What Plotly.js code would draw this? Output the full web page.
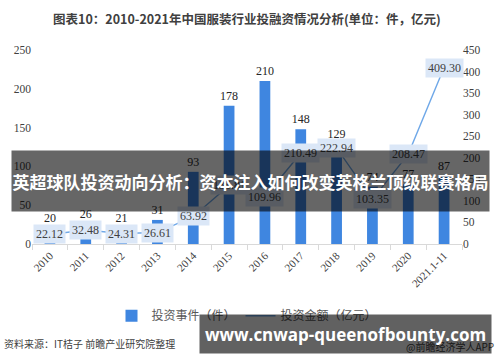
<!DOCTYPE html>
<html><head><meta charset="utf-8">
<script src="https://cdn.plot.ly/plotly-3.0.1.min.js"></script>
<style>html,body{margin:0;padding:0;background:#fff}#chart{width:500px;height:362px}</style>
</head><body><div id="chart"></div>
<script>
const categories = ['2010','2011','2012','2013','2014','2015','2016','2017','2018','2019','2020','2021.1-11'];
const eventCounts = [20,26,21,31,93,178,210,148,129,74,77,87];
const amounts = [22.12,32.48,24.31,26.61,63.92,135.81,109.96,210.49,222.94,103.35,208.47,409.30];
const titleText = '图表10：2010-2021年中国服装行业投融资情况分析(单位：件，亿元)';
const bannerText = '英超球队投资动向分析：资本注入如何改变英格兰顶级联赛格局';
const siteText = 'www.cnwap-queenofbounty.com';
const sourceText = '资料来源：IT桔子 前瞻产业研究院整理';
const creditText = '@前瞻经济学人APP';

const serif = 'Liberation Serif, Times New Roman, serif';
const sans = 'Noto Sans CJK SC, Noto Sans, sans-serif';

const traces = [
  {type:'bar', name:'投资事件（件）', x:categories, y:eventCounts, marker:{color:'#3f86e0'},
   width:0.3, text:eventCounts.map(String), textposition:'outside', cliponaxis:false, constraintext:'none',
   textfont:{family:serif, size:12, color:'#262626'}, yaxis:'y'},
  {type:'scatter', mode:'lines', name:'投资金额（亿元）', x:categories, y:amounts,
   line:{color:'#6fa8e8', width:1.4}, yaxis:'y2'}
];

const annotations = amounts.map((v,i)=>({
  x:i, y:v, xref:'x', yref:'y2', text:v.toFixed(2), showarrow:false,
  bgcolor:'#dbe7f7', borderpad:2, font:{family:serif, size:12, color:'#404040'}
}));
annotations.push(
  {xref:'paper', yref:'paper', x:0.5, y:1, yshift:32, xanchor:'center', yanchor:'middle', showarrow:false,
   text:'<b>'+titleText+'</b>', font:{family:sans, size:12.5, color:'#404040'}},
  {xref:'paper', yref:'paper', x:-0.07, y:0, yshift:-99, xanchor:'left', yanchor:'middle', showarrow:false,
   text:sourceText, font:{family:sans, size:10, color:'#404040'}},
  {xref:'paper', yref:'paper', x:1.08, y:0, yshift:-102, xanchor:'right', yanchor:'middle', showarrow:false,
   text:creditText, font:{family:sans, size:10, color:'#404040'}},
  {xref:'paper', yref:'paper', x:(250.5-32)/430, y:(244-181)/194.5, xanchor:'center', yanchor:'middle', showarrow:false,
   width:477, height:60, bgcolor:'rgba(0,0,0,0.6)', borderpad:0, valign:'middle',
   text:'<b>'+bannerText+'</b>', font:{family:sans, size:17, color:'#ffffff'}},
  {xref:'paper', yref:'paper', x:(345.5-32)/430, y:(244-334)/194.5, xanchor:'center', yanchor:'middle', showarrow:false,
   width:291, height:38, bgcolor:'rgba(0,0,0,0.62)', borderpad:0, valign:'middle',
   text:'<b>'+siteText+'</b>', font:{family:'Open Sans, DejaVu Sans, sans-serif', size:17, color:'#ffffff'}}
);

const layout = {
  width:500, height:362,
  margin:{l:32, r:38, t:50, b:118},
  paper_bgcolor:'#fff', plot_bgcolor:'#fff',
  showlegend:true,
  legend:{orientation:'h', x:0.5, xanchor:'center', y:-0.37, yanchor:'middle',
    font:{family:sans, size:12, color:'#595959'}, itemwidth:30, tracegroupgap:0},
  xaxis:{type:'category', range:[-0.5, 11.5], autorange:false, tickangle:-45, tickfont:{family:serif, size:11, color:'#404040'},
    showline:true, linecolor:'#d9d9d9', ticks:'outside', tickson:'boundaries', tickcolor:'#d9d9d9', ticklen:5,
    showgrid:false, zeroline:false},
  yaxis:{range:[0,250], autorange:false, dtick:50, showgrid:false, zeroline:false, showline:false,
    tickfont:{family:serif, size:11.5, color:'#404040'}},
  yaxis2:{range:[0,450], autorange:false, dtick:50, overlaying:'y', side:'right', showgrid:false, zeroline:false,
    tickfont:{family:serif, size:11.5, color:'#404040'}},
  annotations:annotations
};

Plotly.newPlot('chart', traces, layout, {displayModeBar:false, staticPlot:true});
</script></body></html>
